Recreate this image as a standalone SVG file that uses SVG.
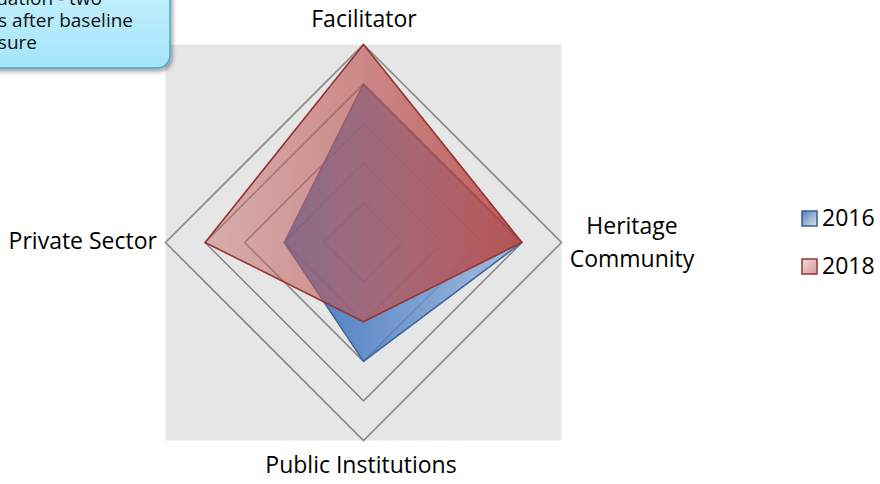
<svg xmlns="http://www.w3.org/2000/svg" width="880" height="484" viewBox="0 0 880 484">
  <defs>
    <linearGradient id="gBlue" gradientUnits="userSpaceOnUse" x1="284" y1="0" x2="522" y2="0">
      <stop offset="0" stop-color="#1e5bb5" stop-opacity="0.8"/>
      <stop offset="1" stop-color="#95b4dc" stop-opacity="0.8"/>
    </linearGradient>
    <linearGradient id="gRed" gradientUnits="userSpaceOnUse" x1="205" y1="0" x2="522" y2="0">
      <stop offset="0" stop-color="#c46a68" stop-opacity="0.45"/>
      <stop offset="1" stop-color="#b6403c" stop-opacity="0.85"/>
    </linearGradient>
    <linearGradient id="gCallout" x1="0" y1="0" x2="0" y2="1">
      <stop offset="0" stop-color="#d2f4ff"/>
      <stop offset="1" stop-color="#a3e5fa"/>
    </linearGradient>
    <linearGradient id="gLegBlue" x1="0" y1="0" x2="1" y2="1">
      <stop offset="0" stop-color="#4f81bd"/>
      <stop offset="1" stop-color="#dbe5f1"/>
    </linearGradient>
    <linearGradient id="gLegRed" x1="0" y1="0" x2="1" y2="1">
      <stop offset="0" stop-color="#f2dcdb"/>
      <stop offset="1" stop-color="#d99694"/>
    </linearGradient>
    <filter id="shadow" x="-20%" y="-20%" width="140%" height="150%">
      <feDropShadow dx="2" dy="3" stdDeviation="2" flood-color="#000" flood-opacity="0.35"/>
    </filter>
  </defs>
  <style>
    .lbl { font-family: "Open Sans", "Noto Sans", sans-serif; font-size: 23px; fill: #000; }
    .note { font-family: "Open Sans", "Noto Sans", sans-serif; font-size: 19px; fill: #111; }
    .grid { fill: none; stroke: #8a8a8a; stroke-width: 1.6; }
    .s2016 { fill: url(#gBlue); stroke: #3a63a0; stroke-width: 1.5; stroke-linejoin: round; }
    .s2018 { fill: url(#gRed); stroke: #943634; stroke-width: 1.6; stroke-linejoin: round; }
  </style>

  <rect width="880" height="484" fill="#ffffff"/>

  <g id="plot-area">
    <rect x="165.5" y="44.5" width="396" height="396" fill="#e6e6e6"/>
  </g>

  <g id="grid">
    <polygon class="grid" points="363.5,44.5 561.5,242.5 363.5,440.5 165.5,242.5"/>
    <polygon class="grid" points="363.5,84.1 521.9,242.5 363.5,400.9 205.1,242.5"/>
    <polygon class="grid" points="363.5,123.7 482.3,242.5 363.5,361.3 244.7,242.5"/>
    <polygon class="grid" points="363.5,163.3 442.7,242.5 363.5,321.7 284.3,242.5"/>
    <polygon class="grid" points="363.5,202.9 403.1,242.5 363.5,282.1 323.9,242.5"/>
  </g>

  <g id="series">
    <polygon id="series-2016" class="s2016" points="363.5,84.1 521.9,242.5 363.5,361.3 284.3,242.5"/>
    <polygon id="series-2018" class="s2018" points="363.5,44.5 521.9,242.5 363.5,321.7 205.1,242.5"/>
  </g>

  <g id="axis-labels">
    <text id="lbl-facilitator" class="lbl" x="364" y="27" text-anchor="middle">Facilitator</text>
    <text id="lbl-heritage" class="lbl" x="632" y="234" text-anchor="middle">Heritage</text>
    <text id="lbl-community" class="lbl" x="632" y="267" text-anchor="middle">Community</text>
    <text id="lbl-public" class="lbl" x="361" y="473" text-anchor="middle">Public Institutions</text>
    <text id="lbl-private" class="lbl" x="157" y="249" text-anchor="end">Private Sector</text>
  </g>

  <g id="legend">
    <g id="legend-2016">
      <rect x="802" y="211" width="15" height="15" fill="url(#gLegBlue)" stroke="#385d8a" stroke-width="1.5"/>
      <text class="lbl" x="822" y="226">2016</text>
    </g>
    <g id="legend-2018">
      <rect x="802" y="259" width="15" height="15" fill="url(#gLegRed)" stroke="#8c3836" stroke-width="1.5"/>
      <text class="lbl" x="822" y="274">2018</text>
    </g>
  </g>

  <g id="callout">
    <rect x="-40" y="-40" width="210" height="108" rx="13" fill="url(#gCallout)" stroke="#4aaac8" stroke-width="1.5" filter="url(#shadow)"/>
    <text class="note" x="102" y="5" text-anchor="end">uation - two</text>
    <text class="note" x="133" y="27" text-anchor="end">s after baseline</text>
    <text class="note" x="37" y="49" text-anchor="end">sure</text>
  </g>
</svg>
